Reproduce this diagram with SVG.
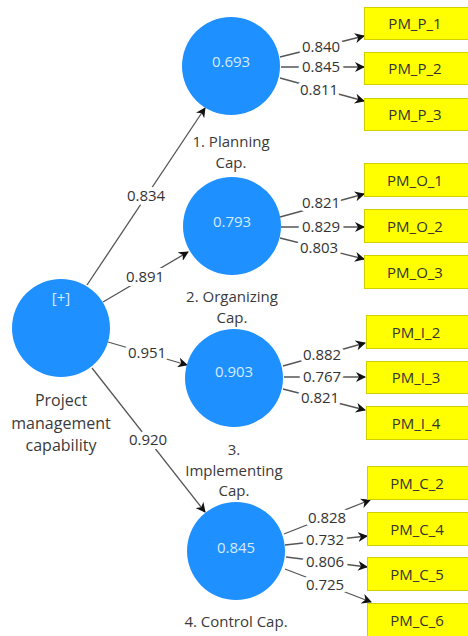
<svg xmlns="http://www.w3.org/2000/svg" width="468" height="636" viewBox="0 0 468 636">
<defs>
<marker id="ah" markerWidth="10" markerHeight="10" refX="9" refY="5" orient="auto" markerUnits="userSpaceOnUse">
<path d="M0,0 L10,5 L0,10 L3,5 Z" fill="#111"/>
</marker>
<style>
.c{fill:#1e90ff}
.ct{font-family:"Open Sans","Noto Sans",sans-serif;font-size:15px;fill:#d6ebff;text-anchor:middle}
.lb{font-family:"Open Sans","Noto Sans",sans-serif;font-size:15px;fill:#3a3a3a;text-anchor:middle}
.lb2{font-family:"Open Sans","Noto Sans",sans-serif;font-size:16px;fill:#3a3a3a;text-anchor:middle}
.r{fill:#ffff00;stroke:#d0d000;stroke-width:1}
.rt{font-family:"Open Sans","Noto Sans",sans-serif;font-size:15px;fill:#333;text-anchor:middle}
.e{stroke:#555;stroke-width:1.3;fill:none;marker-end:url(#ah)}
.w{font-family:"Open Sans","Noto Sans",sans-serif;font-size:15px;fill:#333;text-anchor:middle;stroke:#fff;stroke-width:8;paint-order:stroke;stroke-linejoin:round}
</style>
</defs>
<rect width="468" height="636" fill="#fff"/>

<g id="connectors">
<line class="e" x1="87" y1="285" x2="205" y2="108"/>
<line class="e" x1="103" y1="302" x2="188" y2="252"/>
<line class="e" x1="108" y1="342" x2="187" y2="365"/>
<line class="e" x1="92" y1="368" x2="205" y2="512"/>
<text class="w" x="146" y="201">0.834</text>
<text class="w" x="145" y="282">0.891</text>
<text class="w" x="147" y="358">0.951</text>
<text class="w" x="148" y="445">0.920</text>

<line class="e" x1="280" y1="57" x2="364" y2="36"/>
<line class="e" x1="281" y1="67" x2="364" y2="67"/>
<line class="e" x1="280" y1="78" x2="364" y2="101"/>
<text class="w" x="321" y="52">0.840</text>
<text class="w" x="321" y="72">0.845</text>
<text class="w" x="319" y="95">0.811</text>

<line class="e" x1="280" y1="217" x2="364" y2="194"/>
<line class="e" x1="281" y1="227" x2="364" y2="227"/>
<line class="e" x1="280" y1="238" x2="364" y2="259"/>
<text class="w" x="321" y="208">0.821</text>
<text class="w" x="321" y="232">0.829</text>
<text class="w" x="319" y="253">0.803</text>

<line class="e" x1="283" y1="366" x2="365" y2="343"/>
<line class="e" x1="284" y1="377" x2="365" y2="377"/>
<line class="e" x1="283" y1="389" x2="365" y2="410"/>
<text class="w" x="322" y="360">0.882</text>
<text class="w" x="322" y="382">0.767</text>
<text class="w" x="320" y="403">0.821</text>

<line class="e" x1="284" y1="534" x2="370" y2="500"/>
<line class="e" x1="285" y1="545" x2="367" y2="536"/>
<line class="e" x1="286" y1="557" x2="367" y2="567"/>
<line class="e" x1="285" y1="569" x2="371" y2="602"/>
<text class="w" x="327" y="523">0.828</text>
<text class="w" x="325" y="545">0.732</text>
<text class="w" x="325" y="567">0.806</text>
<text class="w" x="325" y="590">0.725</text>
</g>

<g id="pmc">
<circle class="c" cx="61" cy="328" r="49"/>
<text class="ct" x="61" y="303">[+]</text>
<text class="lb2" x="61" y="406">Project</text>
<text class="lb2" x="61" y="428.5">management</text>
<text class="lb2" x="61" y="451">capability</text>
</g>
<g id="planning">
<circle class="c" cx="231" cy="66" r="49"/>
<text class="ct" x="231" y="67">0.693</text>
<text class="lb" x="231" y="147">1. Planning</text>
<text class="lb" x="231" y="167.5">Cap.</text>
</g>
<g id="organizing">
<circle class="c" cx="232" cy="226" r="49"/>
<text class="ct" x="232" y="227">0.793</text>
<text class="lb" x="232" y="302">2. Organizing</text>
<text class="lb" x="232" y="322.5">Cap.</text>
</g>
<g id="implementing">
<circle class="c" cx="234" cy="378" r="49"/>
<text class="ct" x="234" y="377">0.903</text>
<text class="lb" x="234" y="455">3.</text>
<text class="lb" x="234" y="475.5">Implementing</text>
<text class="lb" x="234" y="496">Cap.</text>
</g>
<g id="control">
<circle class="c" cx="236" cy="551" r="49"/>
<text class="ct" x="236" y="553">0.845</text>
<text class="lb" x="236" y="627">4. Control Cap.</text>
</g>

<g id="PM_P_1"><rect class="r" x="364.5" y="7.5" width="110" height="32"/><text class="rt" x="415" y="29">PM_P_1</text></g>
<g id="PM_P_2"><rect class="r" x="364.5" y="52.5" width="110" height="32"/><text class="rt" x="415" y="74">PM_P_2</text></g>
<g id="PM_P_3"><rect class="r" x="364.5" y="98.5" width="110" height="32"/><text class="rt" x="415" y="120">PM_P_3</text></g>
<g id="PM_O_1"><rect class="r" x="364.5" y="163.5" width="110" height="33"/><text class="rt" x="415" y="186">PM_O_1</text></g>
<g id="PM_O_2"><rect class="r" x="364.5" y="209.5" width="110" height="33"/><text class="rt" x="415" y="232">PM_O_2</text></g>
<g id="PM_O_3"><rect class="r" x="364.5" y="255.5" width="110" height="33"/><text class="rt" x="415" y="278">PM_O_3</text></g>
<g id="PM_I_2"><rect class="r" x="366.5" y="315.5" width="110" height="33"/><text class="rt" x="416" y="338">PM_I_2</text></g>
<g id="PM_I_3"><rect class="r" x="366.5" y="361.5" width="110" height="32"/><text class="rt" x="416" y="383">PM_I_3</text></g>
<g id="PM_I_4"><rect class="r" x="366.5" y="406.5" width="110" height="33"/><text class="rt" x="416" y="429">PM_I_4</text></g>
<g id="PM_C_2"><rect class="r" x="367.5" y="466.5" width="110" height="33"/><text class="rt" x="417" y="489">PM_C_2</text></g>
<g id="PM_C_4"><rect class="r" x="367.5" y="512.5" width="110" height="33"/><text class="rt" x="417" y="535">PM_C_4</text></g>
<g id="PM_C_5"><rect class="r" x="367.5" y="557.5" width="110" height="33"/><text class="rt" x="417" y="580">PM_C_5</text></g>
<g id="PM_C_6"><rect class="r" x="367.5" y="603.5" width="110" height="33"/><text class="rt" x="417" y="626">PM_C_6</text></g>
</svg>
